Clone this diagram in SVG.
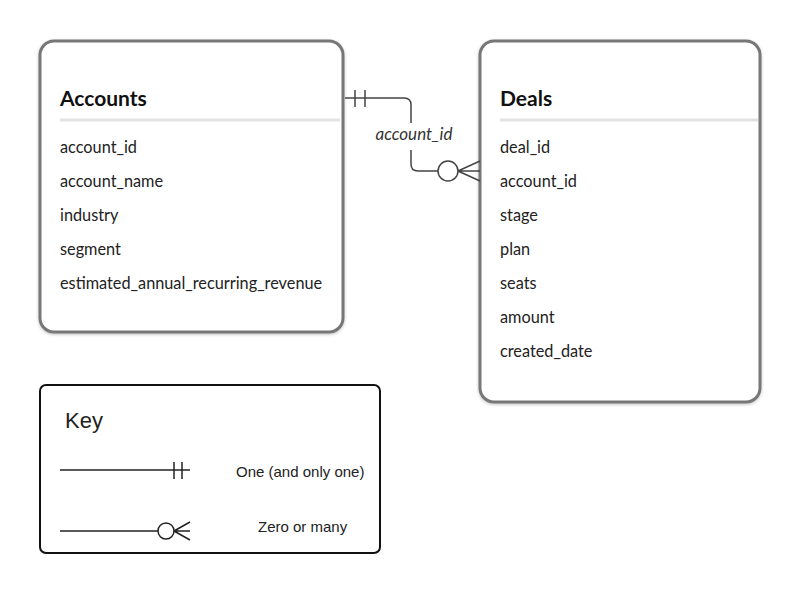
<svg xmlns="http://www.w3.org/2000/svg" width="800" height="594" viewBox="0 0 800 594">
<defs>
<style>
.box{fill:#fff;stroke:#777;stroke-width:3}
.rule{stroke:#e2e2e2;stroke-width:3}
.title{font-family:Lato,"Open Sans",sans-serif;font-weight:bold;font-size:21px;fill:#111}
.field{font-family:Lato,"Open Sans",sans-serif;font-size:16.3px;fill:#222}
.conn{fill:none;stroke:#444;stroke-width:1.5}
.key{fill:none;stroke:#222;stroke-width:1.5}
.keytxt{font-family:"Liberation Sans",Arial,sans-serif;fill:#222}
</style>
<filter id="sh" x="-10%" y="-10%" width="120%" height="120%"><feDropShadow dx="0" dy="1" stdDeviation="1.5" flood-opacity="0.25"/></filter>
</defs>
<rect width="800" height="594" fill="#fff"/>
<g id="accounts">
<rect class="box" x="40" y="41" width="303" height="291" rx="14" filter="url(#sh)"/>
<text class="title" x="60" y="106">Accounts</text>
<line class="rule" x1="60" y1="120" x2="340" y2="120"/>
<text class="field" x="60" y="153">account_id</text>
<text class="field" x="60" y="187">account_name</text>
<text class="field" x="60" y="221">industry</text>
<text class="field" x="60" y="255">segment</text>
<text class="field" x="60" y="289">estimated_annual_recurring_revenue</text>
</g>
<g id="deals">
<rect class="box" x="480" y="41" width="280" height="361" rx="14" filter="url(#sh)"/>
<text class="title" x="500" y="106">Deals</text>
<line class="rule" x1="500" y1="120" x2="758" y2="120"/>
<text class="field" x="500" y="153">deal_id</text>
<text class="field" x="500" y="187">account_id</text>
<text class="field" x="500" y="221">stage</text>
<text class="field" x="500" y="255">plan</text>
<text class="field" x="500" y="289">seats</text>
<text class="field" x="500" y="323">amount</text>
<text class="field" x="500" y="357">created_date</text>
</g>
<g id="connectors">
<path class="conn" d="M345 98 H404 Q411 98 411 105 V123"/>
<path class="conn" d="M411 150 V164 Q411 171 418 171 H438"/>
<line class="conn" x1="355" y1="90" x2="355" y2="107"/>
<line class="conn" x1="365" y1="90" x2="365" y2="107"/>
<circle class="conn" cx="448" cy="171" r="10" fill="#fff"/>
<path class="conn" d="M458 171 L480 161 M458 171 H480 M458 171 L480 181"/>
<text x="414" y="140" text-anchor="middle" font-family="Lato,'Open Sans',sans-serif" font-style="italic" font-size="17" fill="#333">account_id</text>
</g>
<g id="key">
<rect x="40" y="385" width="340" height="168" rx="6" fill="#fff" stroke="#111" stroke-width="2"/>
<text class="keytxt" x="65" y="428" font-size="22">Key</text>
<line class="key" x1="60" y1="470" x2="190" y2="470"/>
<line class="key" x1="174" y1="462" x2="174" y2="479"/>
<line class="key" x1="182" y1="462" x2="182" y2="479"/>
<text class="keytxt" x="236" y="477" font-size="15">One (and only one)</text>
<line class="key" x1="60" y1="531" x2="158" y2="531"/>
<circle class="key" cx="166" cy="531" r="8"/>
<path class="key" d="M174 531 L190 522 M174 531 H190 M174 531 L190 540"/>
<text class="keytxt" x="258" y="532" font-size="15">Zero or many</text>
</g>
</svg>
